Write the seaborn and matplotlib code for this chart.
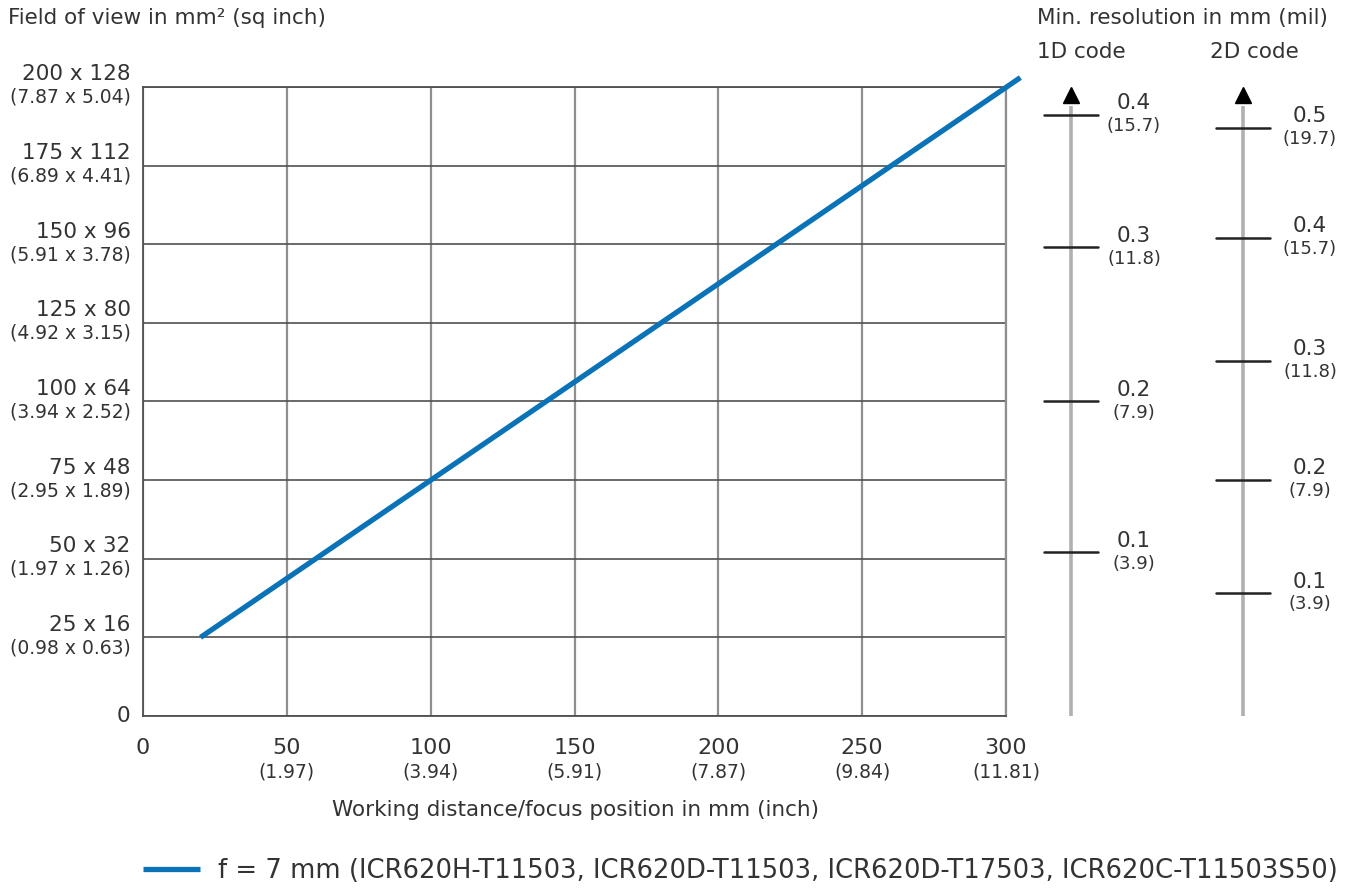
import matplotlib
matplotlib.use("Agg")
import matplotlib.pyplot as plt
import seaborn as sns

# Field of view chart data
dist = [20, 305]
fov = [25, 203]

x_ticks = [0, 50, 100, 150, 200, 250, 300]
x_main = ["0", "50", "100", "150", "200", "250", "300"]
x_sub = ["", "(1.97)", "(3.94)", "(5.91)", "(7.87)", "(9.84)", "(11.81)"]

y_ticks = [0, 25, 50, 75, 100, 125, 150, 175, 200]
y_main = ["0", "25 x 16", "50 x 32", "75 x 48", "100 x 64", "125 x 80",
          "150 x 96", "175 x 112", "200 x 128"]
y_sub = ["", "(0.98 x 0.63)", "(1.97 x 1.26)", "(2.95 x 1.89)", "(3.94 x 2.52)",
         "(4.92 x 3.15)", "(5.91 x 3.78)", "(6.89 x 4.41)", "(7.87 x 5.04)"]

# resolution scales, positions in field-of-view units
res1d_pos = [191, 149, 100, 52]
res1d_main = ["0.4", "0.3", "0.2", "0.1"]
res1d_sub = ["(15.7)", "(11.8)", "(7.9)", "(3.9)"]

res2d_pos = [187, 152, 113, 75, 39]
res2d_main = ["0.5", "0.4", "0.3", "0.2", "0.1"]
res2d_sub = ["(19.7)", "(15.7)", "(11.8)", "(7.9)", "(3.9)"]

legend_label = "f = 7 mm (ICR620H-T11503, ICR620D-T11503, ICR620D-T17503, ICR620C-T11503S50)"

sns.set_theme(style="white")
plt.rcParams['font.family'] = ['DejaVu Sans']
text_col = "#333333"
hgrid = "#505050"
vgrid = "#8f8f8f"
blue = "#0a73b7"

fig = plt.figure(figsize=(13.59, 8.88), dpi=100)
W, H = 1359, 888
ax = fig.add_axes([143 / W, 1 - 716 / H, (1006 - 143) / W, (716 - 87) / H])

sns.lineplot(x=dist, y=fov, ax=ax, color=blue, linewidth=3.8, label=legend_label,
             legend=False)
ax.lines[0].set_clip_on(False)
ax.lines[0].set_solid_capstyle("butt")
ax.lines[0].set_zorder(5)

ax.set_xlim(0, 300)
ax.set_ylim(0, 200)
ax.set_xticks(x_ticks)
ax.set_yticks(y_ticks)
ax.set_xticklabels([])
ax.set_yticklabels([])
ax.tick_params(length=0)
ax.xaxis.grid(True, color=vgrid, linewidth=1.6)
ax.yaxis.grid(True, color=hgrid, linewidth=1.2)
ax.spines["left"].set_color(hgrid)
ax.spines["bottom"].set_color(hgrid)
ax.spines["top"].set_color(hgrid)
ax.spines["right"].set_color(vgrid)
ax.spines["right"].set_linewidth(1.6)
for k in ["left", "bottom", "top"]:
    ax.spines[k].set_linewidth(1.3)

# y tick labels (two lines, different sizes)
for v, m, s in zip(y_ticks, y_main, y_sub):
    if s:
        ax.annotate(m, xy=(0, v), xycoords=("axes fraction", "data"),
                    xytext=(-9, 9), textcoords="offset points",
                    ha="right", va="center", fontsize=15.5, color=text_col)
        ax.annotate(s, xy=(0, v), xycoords=("axes fraction", "data"),
                    xytext=(-9, -7.5), textcoords="offset points",
                    ha="right", va="center", fontsize=13.5, color=text_col)
    else:
        ax.annotate(m, xy=(0, v), xycoords=("axes fraction", "data"),
                    xytext=(-9, 0), textcoords="offset points",
                    ha="right", va="center", fontsize=15.5, color=text_col)

# x tick labels
for v, m, s in zip(x_ticks, x_main, x_sub):
    ax.annotate(m, xy=(v, 0), xycoords=("data", "axes fraction"),
                xytext=(0, -23), textcoords="offset points",
                ha="center", va="center", fontsize=16, color=text_col)
    if s:
        ax.annotate(s, xy=(v, 0), xycoords=("data", "axes fraction"),
                    xytext=(0, -40), textcoords="offset points",
                    ha="center", va="center", fontsize=13.5, color=text_col)

fig.text(575 / W, 1 - 810 / H, "Working distance/focus position in mm (inch)",
         ha="center", va="center", fontsize=15.5, color=text_col)
fig.text(8 / W, 1 - 18 / H, "Field of view in mm² (sq inch)",
         ha="left", va="center", fontsize=15.5, color=text_col)
fig.text(1037 / W, 1 - 18 / H, "Min. resolution in mm (mil)",
         ha="left", va="center", fontsize=15.5, color=text_col)
fig.text(1037 / W, 1 - 52 / H, "1D code",
         ha="left", va="center", fontsize=15.5, color=text_col)
fig.text(1210 / W, 1 - 52 / H, "2D code",
         ha="left", va="center", fontsize=15.5, color=text_col)

# resolution scales
ax2 = fig.add_axes([1012 / W, 1 - 716 / H, (W - 1012) / W, (716 - 87) / H])
ax2.set_xlim(0, W - 1012)
ax2.set_ylim(0, 200)
ax2.axis("off")


def draw_scale(xc, pos, main, sub, lx):
    ax2.plot([xc, xc], [0, 194], color="#b0b0b0", linewidth=2.6, solid_capstyle="butt")
    ax2.plot([xc], [197.3], marker="^", markersize=12, color="black", clip_on=False)
    for p, m, s in zip(pos, main, sub):
        ax2.plot([xc - 27, xc + 27], [p, p], color="#222222", linewidth=1.8)
        ax2.annotate(m, xy=(lx, p), xytext=(0, 8.5), textcoords="offset points",
                     ha="center", va="center", fontsize=15.5, color=text_col)
        ax2.annotate(s, xy=(lx, p), xytext=(0, -8), textcoords="offset points",
                     ha="center", va="center", fontsize=13, color=text_col)


draw_scale(1071 - 1012, res1d_pos, res1d_main, res1d_sub, 1134 - 1012)
draw_scale(1243 - 1012, res2d_pos, res2d_main, res2d_sub, 1310 - 1012)

h, l = ax.get_legend_handles_labels()
fig.legend(h, l, loc="center left", bbox_to_anchor=(143 / W, 1 - 871 / H),
           frameon=False, borderpad=0, borderaxespad=0, handlelength=2.2,
           handletextpad=0.7, fontsize=18.6, labelcolor=text_col)

fig.savefig("out.png", dpi=100, facecolor="white")
